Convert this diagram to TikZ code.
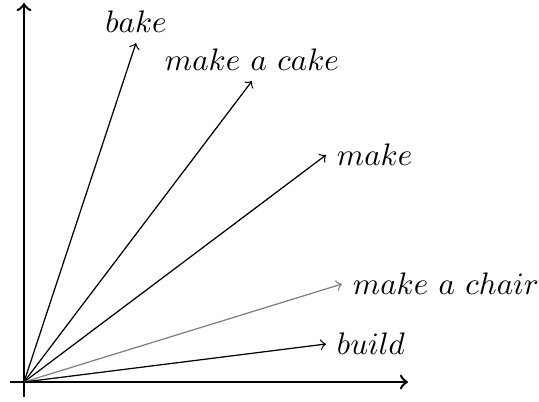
\documentclass[tikz,border=0pt]{standalone}
\begin{document}
\begin{tikzpicture}[x=0.3215pt,y=-0.3215pt,
  axis/.style={thick,->},
  vec/.style={->},
  lbl/.style={inner sep=3.33pt}]
\useasboundingbox (0,0) rectangle (539,401);
\coordinate (O) at (24,382);
\coordinate (xs) at (10,382);
\coordinate (xe) at (408,382);
\coordinate (ys) at (24,397);
\coordinate (ye) at (24,3);
\draw[axis] (xs) -- (xe);
\draw[axis] (ys) -- (ye);
\coordinate (bake) at (136,43);
\coordinate (cake) at (252,81);
\coordinate (make) at (326,155);
\coordinate (chair) at (342,284);
\coordinate (build) at (326,344);
\draw[vec] (O) -- (bake) node[lbl,above] (lbake) {$bake$};
\draw[vec] (O) -- (cake) node[lbl,above] (lcake) {$make\ a\ cake$};
\draw[vec] (O) -- (make) node[lbl,right] (lmake) {$make$};
\draw[vec,gray] (O) -- (chair) node[lbl,right,black] (lchair) {$make\ a\ chair$};
\draw[vec] (O) -- (build) node[lbl,right] (lbuild) {$build$};
\end{tikzpicture}
\end{document}
